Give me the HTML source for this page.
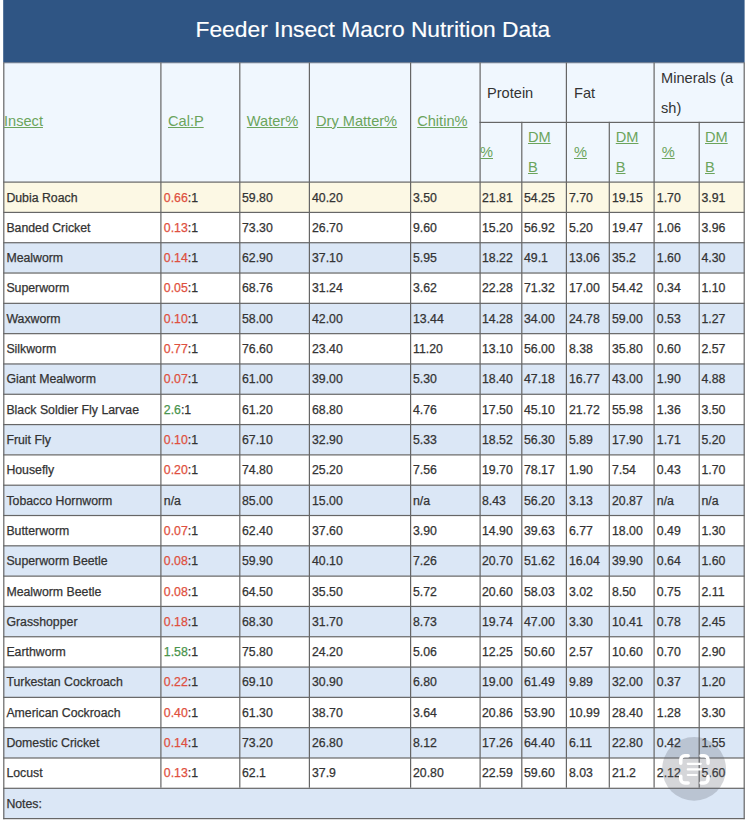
<!DOCTYPE html>
<html><head><meta charset="utf-8"><title>Feeder Insect Macro Nutrition Data</title>
<style>
html,body{margin:0;padding:0;background:#fff;}
body{width:750px;height:821px;position:relative;overflow:hidden;font-family:"Liberation Sans",sans-serif;color:#333333;}
.b{position:absolute;}
.t{position:absolute;white-space:nowrap;font-size:12.30px;line-height:16px;-webkit-text-stroke:0.25px currentColor;}
.l{position:absolute;white-space:nowrap;font-size:14.60px;line-height:18px;color:#6ba45c;text-decoration:underline;}
.h{position:absolute;white-space:nowrap;font-size:14.60px;line-height:18px;color:#333;}
.r{color:#df5040}.g{color:#4a944c}
.v{position:absolute;width:1px;background:#666666;}
.z{position:absolute;height:1px;background:#666666;}
</style></head><body>
<svg class="b" style="left:0;top:0" width="750" height="821" viewBox="0 0 750 821">
<rect x="3.2" y="0" width="741.4" height="62.5" fill="#2f5584"/>
<rect x="3.2" y="62.5" width="741.4" height="119.5" fill="#f0f7fe"/>
<rect x="3.2" y="182.00" width="741.4" height="30.31" fill="#fcf8e4"/>
<rect x="3.2" y="212.31" width="741.4" height="30.31" fill="#ffffff"/>
<rect x="3.2" y="242.62" width="741.4" height="30.31" fill="#dbe7f6"/>
<rect x="3.2" y="272.93" width="741.4" height="30.31" fill="#ffffff"/>
<rect x="3.2" y="303.24" width="741.4" height="30.31" fill="#dbe7f6"/>
<rect x="3.2" y="333.55" width="741.4" height="30.31" fill="#ffffff"/>
<rect x="3.2" y="363.86" width="741.4" height="30.31" fill="#dbe7f6"/>
<rect x="3.2" y="394.17" width="741.4" height="30.31" fill="#ffffff"/>
<rect x="3.2" y="424.48" width="741.4" height="30.31" fill="#dbe7f6"/>
<rect x="3.2" y="454.79" width="741.4" height="30.31" fill="#ffffff"/>
<rect x="3.2" y="485.10" width="741.4" height="30.31" fill="#dbe7f6"/>
<rect x="3.2" y="515.41" width="741.4" height="30.31" fill="#ffffff"/>
<rect x="3.2" y="545.72" width="741.4" height="30.31" fill="#dbe7f6"/>
<rect x="3.2" y="576.03" width="741.4" height="30.31" fill="#ffffff"/>
<rect x="3.2" y="606.34" width="741.4" height="30.31" fill="#dbe7f6"/>
<rect x="3.2" y="636.65" width="741.4" height="30.31" fill="#ffffff"/>
<rect x="3.2" y="666.96" width="741.4" height="30.31" fill="#dbe7f6"/>
<rect x="3.2" y="697.27" width="741.4" height="30.31" fill="#ffffff"/>
<rect x="3.2" y="727.58" width="741.4" height="30.31" fill="#dbe7f6"/>
<rect x="3.2" y="757.89" width="741.4" height="30.31" fill="#ffffff"/>
<rect x="3.2" y="788.20" width="741.4" height="30.31" fill="#dbe7f6"/>
<g fill="#666666">
<rect x="3.2" y="62.3" width="741.4" height="0.9" fill="#4b5c74"/>
<rect x="479.5" y="121.8" width="265.1" height="1.2"/>
<rect x="3.2" y="181.50" width="741.4" height="1.2"/>
<rect x="3.2" y="211.81" width="741.4" height="1.2"/>
<rect x="3.2" y="242.12" width="741.4" height="1.2"/>
<rect x="3.2" y="272.43" width="741.4" height="1.2"/>
<rect x="3.2" y="302.74" width="741.4" height="1.2"/>
<rect x="3.2" y="333.05" width="741.4" height="1.2"/>
<rect x="3.2" y="363.36" width="741.4" height="1.2"/>
<rect x="3.2" y="393.67" width="741.4" height="1.2"/>
<rect x="3.2" y="423.98" width="741.4" height="1.2"/>
<rect x="3.2" y="454.29" width="741.4" height="1.2"/>
<rect x="3.2" y="484.60" width="741.4" height="1.2"/>
<rect x="3.2" y="514.91" width="741.4" height="1.2"/>
<rect x="3.2" y="545.22" width="741.4" height="1.2"/>
<rect x="3.2" y="575.53" width="741.4" height="1.2"/>
<rect x="3.2" y="605.84" width="741.4" height="1.2"/>
<rect x="3.2" y="636.15" width="741.4" height="1.2"/>
<rect x="3.2" y="666.46" width="741.4" height="1.2"/>
<rect x="3.2" y="696.77" width="741.4" height="1.2"/>
<rect x="3.2" y="727.08" width="741.4" height="1.2"/>
<rect x="3.2" y="757.39" width="741.4" height="1.2"/>
<rect x="3.2" y="787.70" width="741.4" height="1.2"/>
<rect x="3.2" y="818.01" width="741.4" height="1.2"/>
<rect x="3.2" y="62.5" width="1.2" height="756.71"/>
<rect x="743.6" y="62.5" width="1.2" height="756.71"/>
<rect x="160.3" y="62.5" width="1.2" height="725.20"/>
<rect x="239.2" y="62.5" width="1.2" height="725.20"/>
<rect x="308.8" y="62.5" width="1.2" height="725.20"/>
<rect x="410" y="62.5" width="1.2" height="725.20"/>
<rect x="479.5" y="62.5" width="1.2" height="725.20"/>
<rect x="565.8" y="62.5" width="1.2" height="725.20"/>
<rect x="653.5" y="62.5" width="1.2" height="725.20"/>
<rect x="521.2" y="121.8" width="1.2" height="665.90"/>
<rect x="608.7" y="121.8" width="1.2" height="665.90"/>
<rect x="698.6" y="121.8" width="1.2" height="665.90"/>
</g></svg>
<div class="b" id="title" style="left:3.2px;top:15.5px;-webkit-text-stroke:0.15px #fff;width:741.4px;margin-left:-1px;text-align:center;color:#fff;font-size:22.80px;line-height:26px;white-space:nowrap">Feeder Insect Macro Nutrition Data</div>
<div class="l" id="insect" style="left:4px;top:111.6px">Insect</div>
<div class="l" style="left:168px;top:111.6px">Cal:P</div>
<div class="l" style="left:246.8px;top:111.6px">Water%</div>
<div class="l" style="left:316px;top:111.6px">Dry Matter%</div>
<div class="l" style="left:417.2px;top:111.6px">Chitin%</div>
<div class="h" style="left:487px;top:83.75px">Protein</div>
<div class="h" style="left:574px;top:83.75px">Fat</div>
<div class="h" style="left:661px;top:68.75px">Minerals (a</div>
<div class="h" style="left:661px;top:98.75px">sh)</div>
<div class="l" style="left:480px;top:142.5px">%</div>
<div class="l" style="left:574px;top:142.5px">%</div>
<div class="l" style="left:661.75px;top:142.5px">%</div>
<div class="l" style="left:528px;top:128.4px">DM</div>
<div class="l" style="left:528px;top:158.4px">B</div>
<div class="l" style="left:615.75px;top:128.4px">DM</div>
<div class="l" style="left:615.75px;top:158.4px">B</div>
<div class="l" style="left:705px;top:128.4px">DM</div>
<div class="l" style="left:705px;top:158.4px">B</div>
<div class="t" style="left:6.4px;top:189.50px">Dubia Roach</div>
<div class="t" style="left:163.8px;top:189.50px"><span class="r">0.66</span>:1</div>
<div class="t" style="left:242px;top:189.50px">59.80</div>
<div class="t" style="left:312px;top:189.50px">40.20</div>
<div class="t" style="left:413px;top:189.50px">3.50</div>
<div class="t" style="left:482px;top:189.50px">21.81</div>
<div class="t" style="left:524px;top:189.50px">54.25</div>
<div class="t" style="left:569px;top:189.50px">7.70</div>
<div class="t" style="left:612px;top:189.50px">19.15</div>
<div class="t" style="left:656.8px;top:189.50px">1.70</div>
<div class="t" style="left:701.5px;top:189.50px">3.91</div>
<div class="t" style="left:6.4px;top:219.81px">Banded Cricket</div>
<div class="t" style="left:163.8px;top:219.81px"><span class="r">0.13</span>:1</div>
<div class="t" style="left:242px;top:219.81px">73.30</div>
<div class="t" style="left:312px;top:219.81px">26.70</div>
<div class="t" style="left:413px;top:219.81px">9.60</div>
<div class="t" style="left:482px;top:219.81px">15.20</div>
<div class="t" style="left:524px;top:219.81px">56.92</div>
<div class="t" style="left:569px;top:219.81px">5.20</div>
<div class="t" style="left:612px;top:219.81px">19.47</div>
<div class="t" style="left:656.8px;top:219.81px">1.06</div>
<div class="t" style="left:701.5px;top:219.81px">3.96</div>
<div class="t" style="left:6.4px;top:250.12px">Mealworm</div>
<div class="t" style="left:163.8px;top:250.12px"><span class="r">0.14</span>:1</div>
<div class="t" style="left:242px;top:250.12px">62.90</div>
<div class="t" style="left:312px;top:250.12px">37.10</div>
<div class="t" style="left:413px;top:250.12px">5.95</div>
<div class="t" style="left:482px;top:250.12px">18.22</div>
<div class="t" style="left:524px;top:250.12px">49.1</div>
<div class="t" style="left:569px;top:250.12px">13.06</div>
<div class="t" style="left:612px;top:250.12px">35.2</div>
<div class="t" style="left:656.8px;top:250.12px">1.60</div>
<div class="t" style="left:701.5px;top:250.12px">4.30</div>
<div class="t" style="left:6.4px;top:280.43px">Superworm</div>
<div class="t" style="left:163.8px;top:280.43px"><span class="r">0.05</span>:1</div>
<div class="t" style="left:242px;top:280.43px">68.76</div>
<div class="t" style="left:312px;top:280.43px">31.24</div>
<div class="t" style="left:413px;top:280.43px">3.62</div>
<div class="t" style="left:482px;top:280.43px">22.28</div>
<div class="t" style="left:524px;top:280.43px">71.32</div>
<div class="t" style="left:569px;top:280.43px">17.00</div>
<div class="t" style="left:612px;top:280.43px">54.42</div>
<div class="t" style="left:656.8px;top:280.43px">0.34</div>
<div class="t" style="left:701.5px;top:280.43px">1.10</div>
<div class="t" style="left:6.4px;top:310.74px">Waxworm</div>
<div class="t" style="left:163.8px;top:310.74px"><span class="r">0.10</span>:1</div>
<div class="t" style="left:242px;top:310.74px">58.00</div>
<div class="t" style="left:312px;top:310.74px">42.00</div>
<div class="t" style="left:413px;top:310.74px">13.44</div>
<div class="t" style="left:482px;top:310.74px">14.28</div>
<div class="t" style="left:524px;top:310.74px">34.00</div>
<div class="t" style="left:569px;top:310.74px">24.78</div>
<div class="t" style="left:612px;top:310.74px">59.00</div>
<div class="t" style="left:656.8px;top:310.74px">0.53</div>
<div class="t" style="left:701.5px;top:310.74px">1.27</div>
<div class="t" style="left:6.4px;top:341.05px">Silkworm</div>
<div class="t" style="left:163.8px;top:341.05px"><span class="r">0.77</span>:1</div>
<div class="t" style="left:242px;top:341.05px">76.60</div>
<div class="t" style="left:312px;top:341.05px">23.40</div>
<div class="t" style="left:413px;top:341.05px">11.20</div>
<div class="t" style="left:482px;top:341.05px">13.10</div>
<div class="t" style="left:524px;top:341.05px">56.00</div>
<div class="t" style="left:569px;top:341.05px">8.38</div>
<div class="t" style="left:612px;top:341.05px">35.80</div>
<div class="t" style="left:656.8px;top:341.05px">0.60</div>
<div class="t" style="left:701.5px;top:341.05px">2.57</div>
<div class="t" style="left:6.4px;top:371.36px">Giant Mealworm</div>
<div class="t" style="left:163.8px;top:371.36px"><span class="r">0.07</span>:1</div>
<div class="t" style="left:242px;top:371.36px">61.00</div>
<div class="t" style="left:312px;top:371.36px">39.00</div>
<div class="t" style="left:413px;top:371.36px">5.30</div>
<div class="t" style="left:482px;top:371.36px">18.40</div>
<div class="t" style="left:524px;top:371.36px">47.18</div>
<div class="t" style="left:569px;top:371.36px">16.77</div>
<div class="t" style="left:612px;top:371.36px">43.00</div>
<div class="t" style="left:656.8px;top:371.36px">1.90</div>
<div class="t" style="left:701.5px;top:371.36px">4.88</div>
<div class="t" style="left:6.4px;top:401.67px">Black Soldier Fly Larvae</div>
<div class="t" style="left:163.8px;top:401.67px"><span class="g">2.6</span>:1</div>
<div class="t" style="left:242px;top:401.67px">61.20</div>
<div class="t" style="left:312px;top:401.67px">68.80</div>
<div class="t" style="left:413px;top:401.67px">4.76</div>
<div class="t" style="left:482px;top:401.67px">17.50</div>
<div class="t" style="left:524px;top:401.67px">45.10</div>
<div class="t" style="left:569px;top:401.67px">21.72</div>
<div class="t" style="left:612px;top:401.67px">55.98</div>
<div class="t" style="left:656.8px;top:401.67px">1.36</div>
<div class="t" style="left:701.5px;top:401.67px">3.50</div>
<div class="t" style="left:6.4px;top:431.98px">Fruit Fly</div>
<div class="t" style="left:163.8px;top:431.98px"><span class="r">0.10</span>:1</div>
<div class="t" style="left:242px;top:431.98px">67.10</div>
<div class="t" style="left:312px;top:431.98px">32.90</div>
<div class="t" style="left:413px;top:431.98px">5.33</div>
<div class="t" style="left:482px;top:431.98px">18.52</div>
<div class="t" style="left:524px;top:431.98px">56.30</div>
<div class="t" style="left:569px;top:431.98px">5.89</div>
<div class="t" style="left:612px;top:431.98px">17.90</div>
<div class="t" style="left:656.8px;top:431.98px">1.71</div>
<div class="t" style="left:701.5px;top:431.98px">5.20</div>
<div class="t" style="left:6.4px;top:462.29px">Housefly</div>
<div class="t" style="left:163.8px;top:462.29px"><span class="r">0.20</span>:1</div>
<div class="t" style="left:242px;top:462.29px">74.80</div>
<div class="t" style="left:312px;top:462.29px">25.20</div>
<div class="t" style="left:413px;top:462.29px">7.56</div>
<div class="t" style="left:482px;top:462.29px">19.70</div>
<div class="t" style="left:524px;top:462.29px">78.17</div>
<div class="t" style="left:569px;top:462.29px">1.90</div>
<div class="t" style="left:612px;top:462.29px">7.54</div>
<div class="t" style="left:656.8px;top:462.29px">0.43</div>
<div class="t" style="left:701.5px;top:462.29px">1.70</div>
<div class="t" style="left:6.4px;top:492.60px">Tobacco Hornworm</div>
<div class="t" style="left:163.8px;top:492.60px">n/a</div>
<div class="t" style="left:242px;top:492.60px">85.00</div>
<div class="t" style="left:312px;top:492.60px">15.00</div>
<div class="t" style="left:413px;top:492.60px">n/a</div>
<div class="t" style="left:482px;top:492.60px">8.43</div>
<div class="t" style="left:524px;top:492.60px">56.20</div>
<div class="t" style="left:569px;top:492.60px">3.13</div>
<div class="t" style="left:612px;top:492.60px">20.87</div>
<div class="t" style="left:656.8px;top:492.60px">n/a</div>
<div class="t" style="left:701.5px;top:492.60px">n/a</div>
<div class="t" style="left:6.4px;top:522.91px">Butterworm</div>
<div class="t" style="left:163.8px;top:522.91px"><span class="r">0.07</span>:1</div>
<div class="t" style="left:242px;top:522.91px">62.40</div>
<div class="t" style="left:312px;top:522.91px">37.60</div>
<div class="t" style="left:413px;top:522.91px">3.90</div>
<div class="t" style="left:482px;top:522.91px">14.90</div>
<div class="t" style="left:524px;top:522.91px">39.63</div>
<div class="t" style="left:569px;top:522.91px">6.77</div>
<div class="t" style="left:612px;top:522.91px">18.00</div>
<div class="t" style="left:656.8px;top:522.91px">0.49</div>
<div class="t" style="left:701.5px;top:522.91px">1.30</div>
<div class="t" style="left:6.4px;top:553.22px">Superworm Beetle</div>
<div class="t" style="left:163.8px;top:553.22px"><span class="r">0.08</span>:1</div>
<div class="t" style="left:242px;top:553.22px">59.90</div>
<div class="t" style="left:312px;top:553.22px">40.10</div>
<div class="t" style="left:413px;top:553.22px">7.26</div>
<div class="t" style="left:482px;top:553.22px">20.70</div>
<div class="t" style="left:524px;top:553.22px">51.62</div>
<div class="t" style="left:569px;top:553.22px">16.04</div>
<div class="t" style="left:612px;top:553.22px">39.90</div>
<div class="t" style="left:656.8px;top:553.22px">0.64</div>
<div class="t" style="left:701.5px;top:553.22px">1.60</div>
<div class="t" style="left:6.4px;top:583.53px">Mealworm Beetle</div>
<div class="t" style="left:163.8px;top:583.53px"><span class="r">0.08</span>:1</div>
<div class="t" style="left:242px;top:583.53px">64.50</div>
<div class="t" style="left:312px;top:583.53px">35.50</div>
<div class="t" style="left:413px;top:583.53px">5.72</div>
<div class="t" style="left:482px;top:583.53px">20.60</div>
<div class="t" style="left:524px;top:583.53px">58.03</div>
<div class="t" style="left:569px;top:583.53px">3.02</div>
<div class="t" style="left:612px;top:583.53px">8.50</div>
<div class="t" style="left:656.8px;top:583.53px">0.75</div>
<div class="t" style="left:701.5px;top:583.53px">2.11</div>
<div class="t" style="left:6.4px;top:613.84px">Grasshopper</div>
<div class="t" style="left:163.8px;top:613.84px"><span class="r">0.18</span>:1</div>
<div class="t" style="left:242px;top:613.84px">68.30</div>
<div class="t" style="left:312px;top:613.84px">31.70</div>
<div class="t" style="left:413px;top:613.84px">8.73</div>
<div class="t" style="left:482px;top:613.84px">19.74</div>
<div class="t" style="left:524px;top:613.84px">47.00</div>
<div class="t" style="left:569px;top:613.84px">3.30</div>
<div class="t" style="left:612px;top:613.84px">10.41</div>
<div class="t" style="left:656.8px;top:613.84px">0.78</div>
<div class="t" style="left:701.5px;top:613.84px">2.45</div>
<div class="t" style="left:6.4px;top:644.15px">Earthworm</div>
<div class="t" style="left:163.8px;top:644.15px"><span class="g">1.58</span>:1</div>
<div class="t" style="left:242px;top:644.15px">75.80</div>
<div class="t" style="left:312px;top:644.15px">24.20</div>
<div class="t" style="left:413px;top:644.15px">5.06</div>
<div class="t" style="left:482px;top:644.15px">12.25</div>
<div class="t" style="left:524px;top:644.15px">50.60</div>
<div class="t" style="left:569px;top:644.15px">2.57</div>
<div class="t" style="left:612px;top:644.15px">10.60</div>
<div class="t" style="left:656.8px;top:644.15px">0.70</div>
<div class="t" style="left:701.5px;top:644.15px">2.90</div>
<div class="t" style="left:6.4px;top:674.46px">Turkestan Cockroach</div>
<div class="t" style="left:163.8px;top:674.46px"><span class="r">0.22</span>:1</div>
<div class="t" style="left:242px;top:674.46px">69.10</div>
<div class="t" style="left:312px;top:674.46px">30.90</div>
<div class="t" style="left:413px;top:674.46px">6.80</div>
<div class="t" style="left:482px;top:674.46px">19.00</div>
<div class="t" style="left:524px;top:674.46px">61.49</div>
<div class="t" style="left:569px;top:674.46px">9.89</div>
<div class="t" style="left:612px;top:674.46px">32.00</div>
<div class="t" style="left:656.8px;top:674.46px">0.37</div>
<div class="t" style="left:701.5px;top:674.46px">1.20</div>
<div class="t" style="left:6.4px;top:704.77px">American Cockroach</div>
<div class="t" style="left:163.8px;top:704.77px"><span class="r">0.40</span>:1</div>
<div class="t" style="left:242px;top:704.77px">61.30</div>
<div class="t" style="left:312px;top:704.77px">38.70</div>
<div class="t" style="left:413px;top:704.77px">3.64</div>
<div class="t" style="left:482px;top:704.77px">20.86</div>
<div class="t" style="left:524px;top:704.77px">53.90</div>
<div class="t" style="left:569px;top:704.77px">10.99</div>
<div class="t" style="left:612px;top:704.77px">28.40</div>
<div class="t" style="left:656.8px;top:704.77px">1.28</div>
<div class="t" style="left:701.5px;top:704.77px">3.30</div>
<div class="t" style="left:6.4px;top:735.08px">Domestic Cricket</div>
<div class="t" style="left:163.8px;top:735.08px"><span class="r">0.14</span>:1</div>
<div class="t" style="left:242px;top:735.08px">73.20</div>
<div class="t" style="left:312px;top:735.08px">26.80</div>
<div class="t" style="left:413px;top:735.08px">8.12</div>
<div class="t" style="left:482px;top:735.08px">17.26</div>
<div class="t" style="left:524px;top:735.08px">64.40</div>
<div class="t" style="left:569px;top:735.08px">6.11</div>
<div class="t" style="left:612px;top:735.08px">22.80</div>
<div class="t" style="left:656.8px;top:735.08px">0.42</div>
<div class="t" style="left:701.5px;top:735.08px">1.55</div>
<div class="t" style="left:6.4px;top:765.39px">Locust</div>
<div class="t" style="left:163.8px;top:765.39px"><span class="r">0.13</span>:1</div>
<div class="t" style="left:242px;top:765.39px">62.1</div>
<div class="t" style="left:312px;top:765.39px">37.9</div>
<div class="t" style="left:413px;top:765.39px">20.80</div>
<div class="t" style="left:482px;top:765.39px">22.59</div>
<div class="t" style="left:524px;top:765.39px">59.60</div>
<div class="t" style="left:569px;top:765.39px">8.03</div>
<div class="t" style="left:612px;top:765.39px">21.2</div>
<div class="t" style="left:656.8px;top:765.39px">2.12</div>
<div class="t" style="left:701.5px;top:765.39px">5.60</div>
<div class="t" style="left:6.4px;top:795.70px">Notes:</div>
<svg class="b" style="left:0;top:0" width="750" height="821" viewBox="0 0 750 821" fill="none">
<circle cx="694.1" cy="768.9" r="31.9" fill="rgba(92,98,108,0.26)"/>
<g stroke="#fff" stroke-linecap="round" stroke-linejoin="round">
<path stroke-width="3.5" d="M688.15 755.75H684.75A4 4 0 0 0 680.75 759.75V763.15M701.05 755.75H704.05A4 4 0 0 1 708.05 759.75V763.15M680.75 776.35V779.05A4 4 0 0 0 684.75 783.05H688.15M708.05 776.35V779.05A4 4 0 0 1 704.05 783.05H701.05"/>
<path stroke-width="2.2" d="M687.8 763.8H700.8M687.8 769.4H700.8M687.8 775H696.7"/>
</g></svg>
</body></html>
